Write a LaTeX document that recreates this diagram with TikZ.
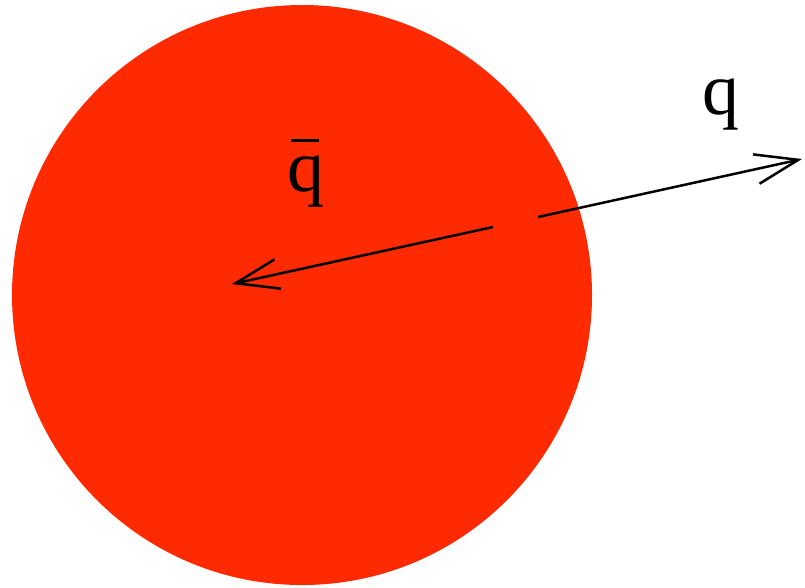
\documentclass[tikz,border=0pt]{standalone}
\usepackage{fontspec}
\setmainfont{Liberation Serif}
\usetikzlibrary{arrows.meta}
\definecolor{ballred}{RGB}{255,42,0}
\newcommand{\antiq}{\leavevmode\rlap{\kern0.05em\raisebox{0.66em}{\rule{0.37em}{0.05em}}}q}

\begin{document}
\begin{tikzpicture}[x=0.1mm,y=-0.1mm,line width=0.25mm,
    quark/.style={font=\fontsize{21}{25}\selectfont,anchor=base,inner sep=0pt},
    barb/.style={-{Straight Barb[length=4.3mm,width=3mm]}}]
    \useasboundingbox (0,0) rectangle (805,587);
    \node [circle,fill=ballred,minimum size=58mm,inner sep=0pt] (ball) at (302,295) {};
    \coordinate (Qbar0) at (493,227);
    \coordinate (Qbar1) at (232,284);
    \coordinate (Q0) at (538,217);
    \coordinate (Q1) at (802,159);
    \draw [barb] (Qbar0) -- (Qbar1);
    \draw [barb] (Q0) -- (Q1);
    \node [quark] (qbar) at (306,191) {\antiq};
    \node [quark] (q) at (721,114) {q};
\end{tikzpicture}
\end{document}
